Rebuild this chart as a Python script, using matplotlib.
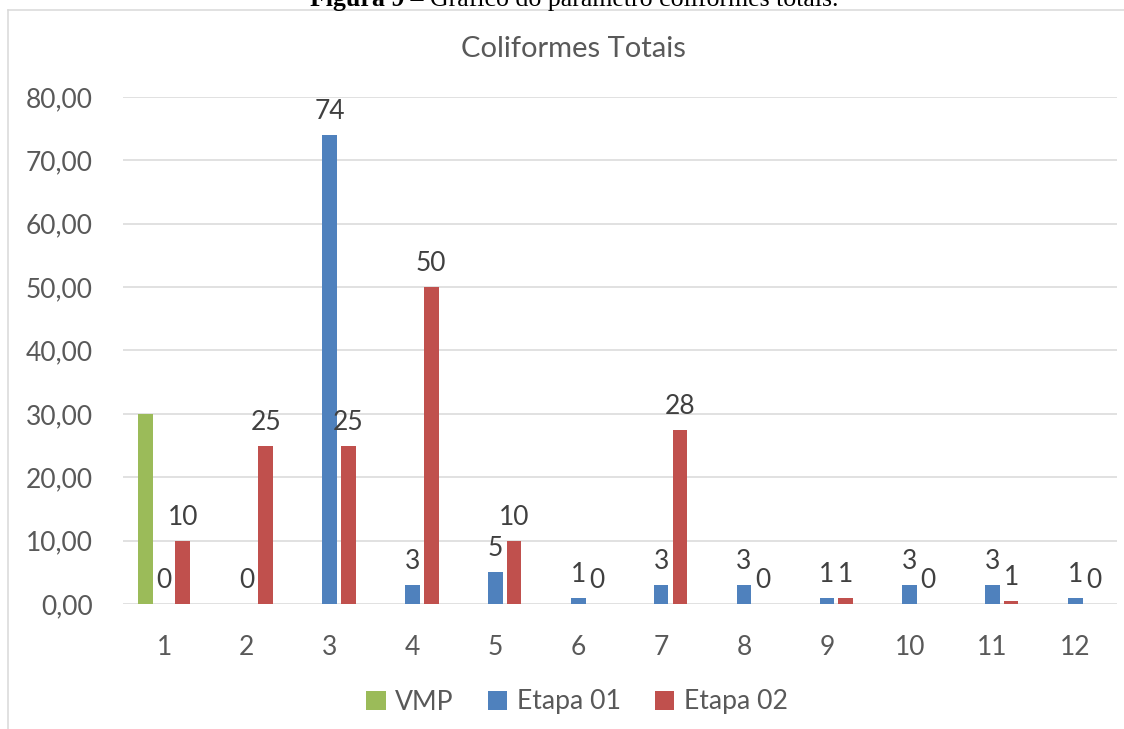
import math
import numpy as np
import matplotlib
matplotlib.use("Agg")
import matplotlib.pyplot as plt
from matplotlib.lines import Line2D

# Data
categories = ["1", "2", "3", "4", "5", "6", "7", "8", "9", "10", "11", "12"]
vmp = [30, np.nan, np.nan, np.nan, np.nan, np.nan, np.nan, np.nan, np.nan, np.nan, np.nan, np.nan]
etapa01 = [0, 0, 74, 3, 5, 1, 3, 3, 1, 3, 3, 1]
etapa02 = [10, 25, 25, 50, 10, 0, 27.5, 0, 1, 0, 0.5, 0]
series_names = ["VMP", "Etapa 01", "Etapa 02"]
y_ticks = [0, 10, 20, 30, 40, 50, 60, 70, 80]

colors = ["#9BBB59", "#4F81BD", "#C0504D"]
axis_text = "#595959"
label_text = "#404040"
grid_color = "#D9D9D9"

plt.rcParams["font.family"] = ["Lato", "DejaVu Sans"]

W, H = 1124, 729
fig = plt.figure(figsize=(W / 100, H / 100), dpi=100)
fig.patch.set_facecolor("white")

# Plot area in pixel terms -> figure fractions
left_px, right_px, top_px, bottom_px = 122.6, 1116.8, 97, 604
ax = fig.add_axes([left_px / W, 1 - bottom_px / H,
                   (right_px - left_px) / W, (bottom_px - top_px) / H])

x = np.arange(len(categories))
bar_w = 0.175
step = 0.2257
offsets = [-step, 0.0, step]
all_series = [vmp, etapa01, etapa02]

for s, (vals, name, col, off) in enumerate(zip(all_series, series_names, colors, offsets)):
    vals = np.asarray(vals, dtype=float)
    ax.bar(x + off, vals, width=bar_w, color=col, label=name, zorder=3)
    if s == 0:
        continue
    for xi, v in zip(x + off, vals):
        if np.isnan(v):
            continue
        txt = str(int(math.floor(v + 0.5)))
        ax.annotate(txt, xy=(xi, v), xytext=(0, 11.5), textcoords="offset points",
                    ha="center", va="baseline", fontsize=19, color=label_text,
                    zorder=4, annotation_clip=False)

ax.set_xlim(-0.5, len(categories) - 0.5)
ax.set_ylim(0, 80)
ax.set_yticks(y_ticks)
ax.set_yticklabels([f"{v:.2f}".replace(".", ",") for v in y_ticks])
ax.set_xticks(x)
ax.set_xticklabels(categories)
ax.tick_params(axis="both", length=0, labelsize=19, labelcolor=axis_text)
ax.tick_params(axis="y", pad=21.6)
ax.tick_params(axis="x", pad=22)
ax.yaxis.grid(True, color=grid_color, linewidth=1.1, zorder=0)
ax.set_axisbelow(True)
for sp in ax.spines.values():
    sp.set_visible(False)

# Chart title
fig.text(573 / W, 1 - 57 / H, "Coliformes Totais", ha="center", va="baseline",
         fontsize=21, color=axis_text)

# Legend
leg = fig.legend(loc="center", bbox_to_anchor=(577 / W, 1 - 702 / H), ncol=3,
                 frameon=False, fontsize=19.2, handlelength=0.72, handleheight=0.72,
                 handletextpad=0.36, columnspacing=1.28, labelcolor=axis_text,
                 borderaxespad=0, borderpad=0)

# Chart area border (extends past the right and bottom edges)
fig.add_artist(Line2D([8 / W, 8 / W], [1 - 10 / H, 0], transform=fig.transFigure,
                      color=grid_color, linewidth=1.1))
fig.add_artist(Line2D([8 / W, 1.0], [1 - 10 / H, 1 - 10 / H], transform=fig.transFigure,
                      color=grid_color, linewidth=1.1))

# Figure caption above the chart
cap1 = fig.text(310 / W, 1 - 6 / H, "Figura 9", ha="left", va="baseline",
                fontsize=18.6, fontweight="bold", family="Liberation Serif", color="black")
fig.canvas.draw()
bb = cap1.get_window_extent()
fig.text(bb.x1 / W, 1 - 6 / H, " – Gráfico do parâmetro coliformes totais.", ha="left",
         va="baseline", fontsize=18.6, family="Liberation Serif", color="black")

fig.savefig("out.png", dpi=100, facecolor="white")
